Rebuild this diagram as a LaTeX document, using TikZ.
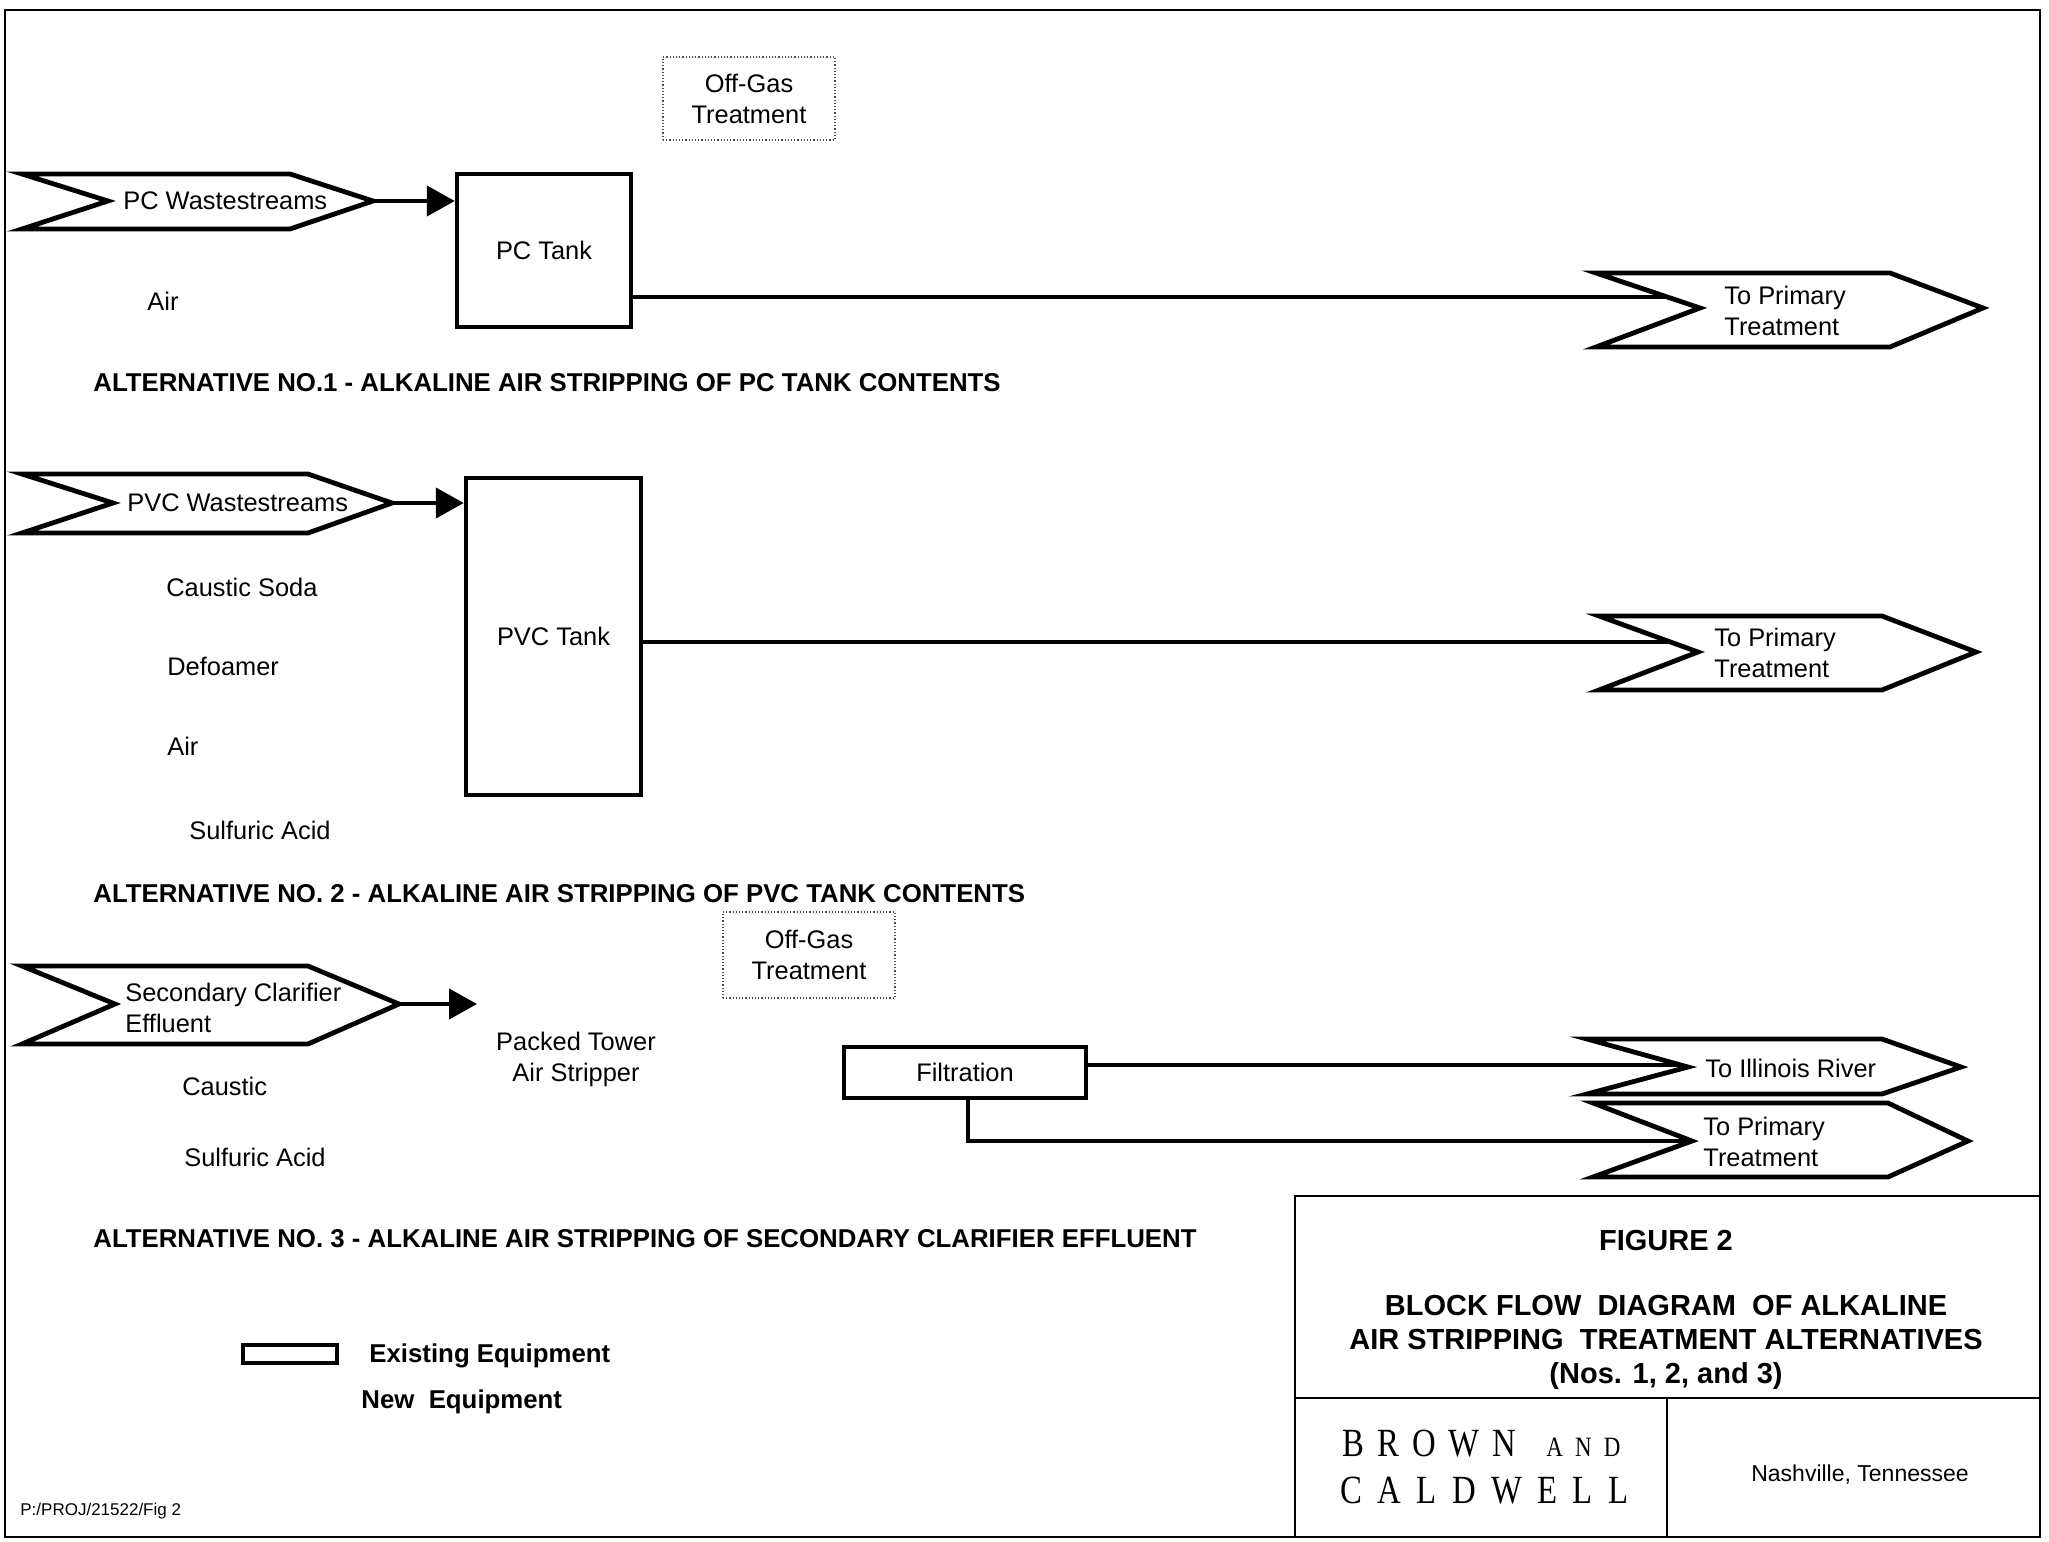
\documentclass[tikz,border=0pt]{standalone}
\usepackage{fontspec}
\setmainfont{Liberation Sans}
\newfontfamily\bcserif[FakeStretch=0.82]{Liberation Serif}
\usetikzlibrary{arrows.meta}
\begin{document}
\begin{tikzpicture}[x=0.5pt,y=-0.5pt,
  chev/.style={draw=black,line width=2.4pt,fill=white,line join=miter},
  tank/.style={draw=black,line width=2.2pt,fill=white,inner sep=0pt},
  flow/.style={draw=black,line width=2.2pt},
  flowarrow/.style={flow,-{Triangle[length=14pt,width=15pt]}},
  offgas/.style={draw=black!70,line width=0.6pt,densely dotted,inner sep=0pt},
  lbl/.style={font=\fontsize{12.7}{15.5}\selectfont,inner sep=0pt,align=left},
  head/.style={font=\bfseries\fontsize{12.9}{15.5}\selectfont,inner sep=0pt,anchor=west},
  ttl/.style={font=\bfseries\fontsize{14.5}{17}\selectfont,inner sep=0pt,align=center},
  frame/.style={draw=black,line width=1pt},
  tb/.style={draw=black,line width=1.4pt},
]
\useasboundingbox[fill=white] (0,0) rectangle (2049,1541);
% page frame
\draw[frame] (5,10) rectangle (2040,1537);

% ---------------- Alternative 1 ----------------
\node[offgas,lbl,align=center,minimum width=86pt,minimum height=41.5pt] (og1) at (749,98.5) {Off-Gas\\Treatment};
\draw[chev] (22,174) -- (290,174) -- (373,201) -- (290,229) -- (22,229) -- (108,201) -- cycle;
\coordinate (pcwtip) at (373,201);
\node[lbl,anchor=west] (pcw) at (123,201) {PC Wastestreams};
\node[tank,lbl,align=center,minimum width=87pt,minimum height=76.5pt] (pctank) at (544,250.5) {PC Tank};
\draw[flowarrow] (pcwtip) -- (pctank.west |- pcwtip);
\coordinate (pctout) at (631,297);
\coordinate (out1notch) at (1700,308);
\draw[flow] (pctout) -- (pctout -| out1notch);
\draw[chev] (1596,273) -- (1890,273) -- (1983,308) -- (1890,347) -- (1596,347) -- (out1notch) -- cycle;
\node[lbl,anchor=west] (out1) at (1724,311) {To Primary\\Treatment};
\node[lbl] (air1) at (163,301) {Air};
\node[head] (h1) at (93,383) {ALTERNATIVE NO.1 - ALKALINE AIR STRIPPING OF PC TANK CONTENTS};

% ---------------- Alternative 2 ----------------
\draw[chev] (22,474) -- (308,474) -- (392,503) -- (308,533) -- (22,533) -- (113,503) -- cycle;
\coordinate (pvcwtip) at (392,503);
\node[lbl,anchor=west] (pvcw) at (127,503) {PVC Wastestreams};
\node[tank,lbl,align=center,minimum width=87.5pt,minimum height=158.5pt] (pvctank) at (553.5,636.5) {PVC Tank};
\draw[flowarrow] (pvcwtip) -- (pvctank.west |- pvcwtip);
\coordinate (pvctout) at (641,642);
\coordinate (out2notch) at (1698,652);
\draw[flow] (pvctout) -- (pvctout -| out2notch);
\draw[chev] (1599,616) -- (1882,616) -- (1976,652) -- (1882,690) -- (1599,690) -- (out2notch) -- cycle;
\node[lbl,anchor=west] (out2) at (1714,653) {To Primary\\Treatment};
\node[lbl,anchor=west] (cs2) at (166,587) {Caustic Soda};
\node[lbl,anchor=west] (df2) at (167,666) {Defoamer};
\node[lbl,anchor=west] (air2) at (167,746) {Air};
\node[lbl,anchor=west] (sa2) at (189,830) {Sulfuric Acid};
\node[head] (h2) at (93,894) {ALTERNATIVE NO. 2 - ALKALINE AIR STRIPPING OF PVC TANK CONTENTS};

% ---------------- Alternative 3 ----------------
\node[offgas,lbl,align=center,minimum width=86pt,minimum height=43pt] (og2) at (809,955) {Off-Gas\\Treatment};
\draw[chev] (22,966) -- (308,966) -- (399,1004) -- (308,1044) -- (22,1044) -- (115,1004) -- cycle;
\coordinate (sceftip) at (399,1004);
\node[lbl,anchor=west] (scef) at (125,1008) {Secondary Clarifier\\Effluent};
\coordinate (ptin) at (477,1004);
\draw[flowarrow] (sceftip) -- (ptin);
\node[lbl,align=center] (ptas) at (576,1059) {Packed Tower\\Air Stripper};
\node[tank,lbl,align=center,minimum width=121pt,minimum height=25.5pt] (filt) at (965,1072.5) {Filtration};
\coordinate (filtout1) at (1086,1065);
\coordinate (ilnotch) at (1688,1067);
\coordinate (filtout2) at (968,1098);
\coordinate (out3notch) at (1692,1141);
\draw[flow] (filtout1) -- (filtout1 -| ilnotch);
\draw[flow] (filtout2) |- (out3notch);
\draw[chev] (1587,1039) -- (1882,1039) -- (1961,1067) -- (1882,1094) -- (1587,1094) -- (ilnotch) -- cycle;
\node[lbl,anchor=west] (il) at (1705,1068) {To Illinois River};
\draw[chev] (1593,1103) -- (1888,1103) -- (1968,1141) -- (1888,1177) -- (1593,1177) -- (out3notch) -- cycle;
\node[lbl,anchor=west] (out3) at (1703,1142) {To Primary\\Treatment};
\node[lbl,anchor=west] (c3) at (182,1086) {Caustic};
\node[lbl,anchor=west] (sa3) at (184,1157) {Sulfuric Acid};
\node[head] (h3) at (93,1239) {ALTERNATIVE NO. 3 - ALKALINE AIR STRIPPING OF SECONDARY CLARIFIER EFFLUENT};

% ---------------- Legend ----------------
\node[tank,minimum width=47pt,minimum height=9pt] (legbox) at (290,1354) {};
\node[head] (legex) at (369,1356) {Existing Equipment};
\node[head] (legnew) at (361,1402) {New\ \ Equipment};
\node[inner sep=0pt,anchor=west,font=\fontsize{8.5}{10}\selectfont] (path) at (20,1511) {P:/PROJ/21522/Fig 2};

% ---------------- Title block ----------------
\draw[tb] (1295,1196) rectangle (2040,1537);
\draw[tb] (1295,1398) -- (2040,1398);
\draw[tb] (1667,1398) -- (1667,1537);
\node[ttl] (fig) at (1666,1240) {FIGURE 2};
\node[ttl] (title) at (1666,1342) {BLOCK FLOW\ \ DIAGRAM\ \ OF ALKALINE\\AIR STRIPPING\ \ TREATMENT ALTERNATIVES\\(Nos. 1, 2, and 3)};
\node[inner sep=0pt,anchor=west,font=\bcserif\fontsize{20}{20}\selectfont] (bc1) at (1342,1444)
  {\makebox[87pt][s]{B R O W N}\hspace{15pt}\makebox[37pt][s]{\fontsize{14}{14}\selectfont A N D}};
\node[inner sep=0pt,anchor=west,font=\bcserif\fontsize{20}{20}\selectfont] (bc2) at (1340,1491)
  {\makebox[144pt][s]{C A L D W E L L}};
\node[inner sep=0pt,font=\fontsize{11.5}{14}\selectfont] (city) at (1860,1475) {Nashville, Tennessee};
\end{tikzpicture}
\end{document}
